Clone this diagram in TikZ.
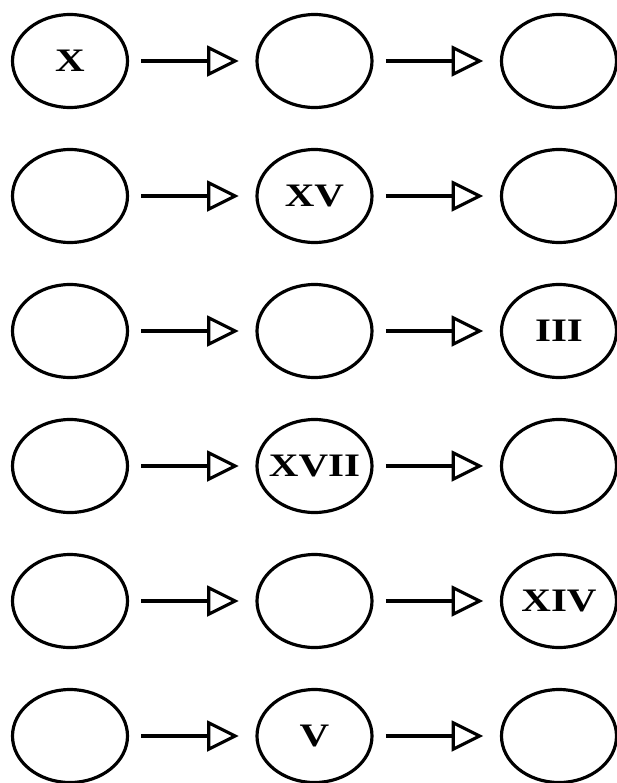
\documentclass[tikz,border=0pt]{standalone}
\usepackage{fontspec}
\usepackage{graphicx}
\usepackage{tikz}
\usetikzlibrary{arrows.meta, automata, shapes.geometric}
\newfontfamily\numfont{Liberation Serif}
\newcommand{\rnum}[1]{\makebox[0pt]{\raisebox{-0.06cm}{\scalebox{1.25}[1]{\numfont\bfseries\fontsize{28}{28}\selectfont #1}}}}

\begin{document}
\begin{tikzpicture}[>={Triangle[open, length=0.95cm, width=0.92cm]},
                    shorten >= 0.5cm, shorten <= 0.37cm,
                    node distance=7.335cm, line width=0.095cm]
\tikzstyle{every state}=[shape=ellipse, draw=black, line width=0.095cm,
                    inner sep=0pt, minimum width=3.45cm, minimum height=2.79cm]
\useasboundingbox (0,0) rectangle (18.51,-23.49);
  \node[state] (A1) at (2.1,-1.83) {\rnum{X}};
  \node[state] (B1) [right of=A1] {};
  \node[state] (C1) [right of=B1] {};
  \node[state] (A2) [below of=A1, node distance=4.05cm] {};
  \node[state] (B2) [right of=A2] {\rnum{XV}};
  \node[state] (C2) [right of=B2] {};
  \node[state] (A3) [below of=A2, node distance=4.05cm] {};
  \node[state] (B3) [right of=A3] {};
  \node[state] (C3) [right of=B3] {\rnum{III}};
  \node[state] (A4) [below of=A3, node distance=4.05cm] {};
  \node[state] (B4) [right of=A4] {\rnum{XVII}};
  \node[state] (C4) [right of=B4] {};
  \node[state] (A5) [below of=A4, node distance=4.05cm] {};
  \node[state] (B5) [right of=A5] {};
  \node[state] (C5) [right of=B5] {\rnum{XIV}};
  \node[state] (A6) [below of=A5, node distance=4.05cm] {};
  \node[state] (B6) [right of=A6] {\rnum{V}};
  \node[state] (C6) [right of=B6] {};
  \path[->]    (A1) edge (B1);
  \path[->]    (B1) edge (C1);
  \path[->]    (A2) edge (B2);
  \path[->]    (B2) edge (C2);
  \path[->]    (A3) edge (B3);
  \path[->]    (B3) edge (C3);
  \path[->]    (A4) edge (B4);
  \path[->]    (B4) edge (C4);
  \path[->]    (A5) edge (B5);
  \path[->]    (B5) edge (C5);
  \path[->]    (A6) edge (B6);
  \path[->]    (B6) edge (C6);
\end{tikzpicture}
\end{document}
